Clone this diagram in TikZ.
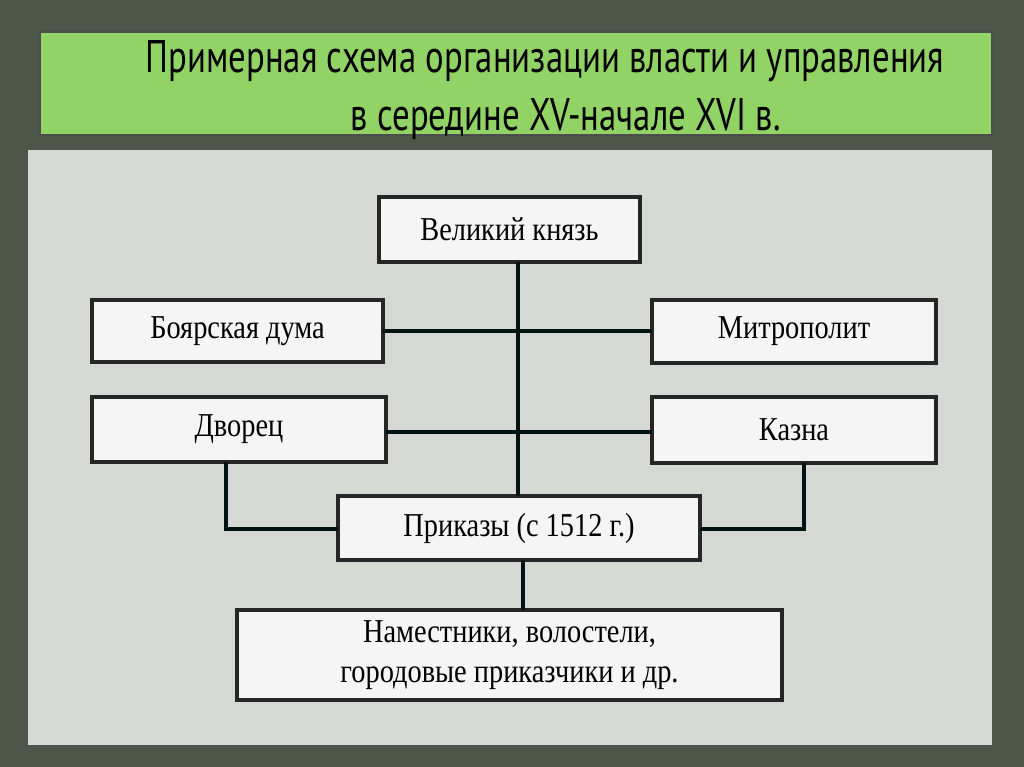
\documentclass[tikz,border=0pt]{standalone}
\usepackage{fontspec}
\setmainfont{Liberation Serif}
\newfontfamily\titlefont{PT Sans}
\begin{document}
\begin{tikzpicture}[x=0.02cm,y=-0.02cm,
  bx/.style={draw=black!85,line width=1.8pt,fill=white!92!gray},
  ln/.style={draw=black!85!teal,line width=2pt},
  lab/.style={font=\fontsize{19}{23}\selectfont,xscale=0.85}]
\fill[fill={rgb,255:red,78;green,86;blue,74}] (0,0) rectangle (1024,767);
\useasboundingbox (0,0) rectangle (1024,767);
\fill[fill={rgb,255:red,214;green,216;blue,212}] (28,150) rectangle (992,745);
\draw[draw=black!70,line width=1.5pt,fill={rgb,255:red,146;green,211;blue,102}] (40,32) rectangle (992,135);
\node[font=\titlefont\fontsize{26}{33}\selectfont,align=center,xscale=0.76] (title) at (545,90) {Примерная схема организации власти и управления\\\hspace*{1.2em}в середине XV-начале XVI в.};
\path[bx] (379,197) rectangle (640,262) node[midway,lab] (vk) {Великий князь};
\path[bx] (92,300) rectangle (383,362) node[midway,lab] (bd) {Боярская дума};
\path[bx] (652,300) rectangle (936,363) node[midway,lab] (mp) {Митрополит};
\path[bx] (92,397) rectangle (386,462) node[midway,lab] (dv) {Дворец};
\path[bx] (652,397) rectangle (936,463) node[midway,lab] (kz) {Казна};
\path[bx] (338,496) rectangle (700,560) node[midway,lab] (pr) {Приказы (с 1512 г.)};
\path[bx] (237,610) rectangle (782,700) node[midway,lab,align=center] (nm) {Наместники, волостели,\\городовые приказчики и др.};
\coordinate (vkb) at (518,262);
\coordinate (prt) at (518,496);
\draw[ln] (vkb) -- (prt);
\draw[ln] (383,331) -- (652,331);
\draw[ln] (386,432) -- (652,432);
\draw[ln] (226,462) |- (338,529);
\draw[ln] (804,463) |- (700,529);
\draw[ln] (523,560) -- (523,610);
\end{tikzpicture}
\end{document}
